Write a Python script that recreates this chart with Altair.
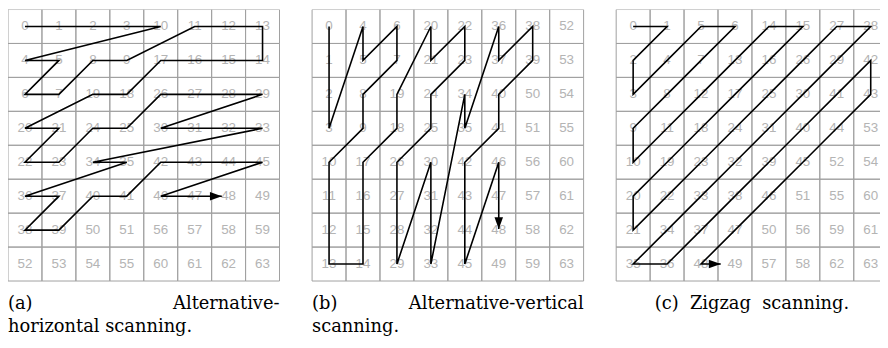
import altair as alt
import pandas as pd

# ---- cell labels (scan index of each position) ----
grid_a = [
    [0, 1, 2, 3, 10, 11, 12, 13],
    [4, 5, 8, 9, 17, 16, 15, 14],
    [6, 7, 19, 18, 26, 27, 28, 29],
    [20, 21, 24, 25, 30, 31, 32, 33],
    [22, 23, 34, 35, 42, 43, 44, 45],
    [36, 37, 40, 41, 46, 47, 48, 49],
    [38, 39, 50, 51, 56, 57, 58, 59],
    [52, 53, 54, 55, 60, 61, 62, 63],
]
grid_b = [
    [0, 4, 6, 20, 22, 36, 38, 52],
    [1, 5, 7, 21, 23, 37, 39, 53],
    [2, 8, 19, 24, 34, 40, 50, 54],
    [3, 9, 18, 25, 35, 41, 51, 55],
    [10, 17, 26, 30, 42, 46, 56, 60],
    [11, 16, 27, 31, 43, 47, 57, 61],
    [12, 15, 28, 32, 44, 48, 58, 62],
    [13, 14, 29, 33, 45, 49, 59, 63],
]
grid_c = [
    [0, 1, 5, 6, 14, 15, 27, 28],
    [2, 4, 7, 13, 16, 26, 29, 42],
    [3, 8, 12, 17, 25, 30, 41, 43],
    [9, 11, 18, 24, 31, 40, 44, 53],
    [10, 19, 23, 32, 39, 45, 52, 54],
    [20, 22, 33, 38, 46, 51, 55, 60],
    [21, 34, 37, 47, 50, 56, 59, 61],
    [35, 36, 48, 49, 57, 58, 62, 63],
]

# ---- drawn scan paths (sequence of visited labels) ----
path_a = [0, 1, 2, 3, 10, 4, 5, 6, 7, 8, 9, 11, 12, 13, 14, 15, 16, 17, 18, 19,
          20, 21, 22, 23, 24, 25, 26, 27, 28, 29, 30, 31, 32, 33, 34, 35, 36,
          37, 38, 39, 40, 41, 42, 43, 44, 45, 46, 47]
path_b = [0, 1, 2, 3, 4, 5, 6, 7, 8, 9, 10, 11, 12, 13, 14, 15, 16, 17, 18, 19,
          20, 21, 22, 23, 24, 25, 26, 27, 28, 29, 30, 31, 32, 33, 34, 35, 36,
          37, 38, 39, 40, 41, 42, 43, 44, 45, 46, 47]
path_c = [0, 1, 2, 3, 4, 5, 6, 7, 8, 9, 10, 11, 12, 13, 14, 15, 16, 17, 18, 19,
          20, 21, 22, 23, 24, 25, 26, 27, 28, 29, 30, 31, 32, 33, 34, 35, 36,
          37, 38, 39, 40, 41, 42, 43, 44, 45, 46, 47, 48]
arrow_target = [48, 48, 49]
arrow_frac = [0.8, 0.97, 0.58]
arrow_angle = [0, 90, 0]

panels = ["a", "b", "c"]
grids = [grid_a, grid_b, grid_c]
paths = [path_a, path_b, path_c]
panel_offset = [0.0, 8.96, 17.92]

captions_left = [("(a)", 0, 8.69), ("horizontal scanning.", 0, 9.36),
                 ("(b)", 1, 8.69), ("scanning.", 1, 9.36)]
captions_right = [("Alternative-", 0, 8.69), ("Alternative-vertical", 1, 8.69)]
captions_center = [("(c)\u00a0\u00a0Zigzag\u00a0\u00a0scanning.", 2, 8.69)]

# ---- build tables ----
cells, path_rows, heads = [], [], []
for p, (name, grid, path, off) in enumerate(zip(panels, grids, paths, panel_offset)):
    pos = {}
    for r, row in enumerate(grid):
        for c, lab in enumerate(row):
            pos[lab] = (off + c + 0.5, r + 0.5)
            cells.append(dict(panel=name, x=off + c, x2=off + c + 1, y=r, y2=r + 1,
                              cx=off + c + 0.5, cy=r + 0.5, label=str(lab)))
    for i, lab in enumerate(path):
        x, y = pos[lab]
        path_rows.append(dict(panel=name, step=i, x=x, y=y))
    sx, sy = pos[path[-1]]
    tx, ty = pos[arrow_target[p]]
    f = arrow_frac[p]
    hx, hy = sx + f * (tx - sx), sy + f * (ty - sy)
    path_rows.append(dict(panel=name, step=len(path), x=hx, y=hy))
    heads.append(dict(panel=name, x=hx, y=hy, ang=arrow_angle[p]))

cells_df = pd.DataFrame(cells)
path_df = pd.DataFrame(path_rows)
head_df = pd.DataFrame(heads)
capL = pd.DataFrame([dict(t=t, x=panel_offset[p], y=y) for t, p, y in captions_left])
capR = pd.DataFrame([dict(t=t, x=panel_offset[p] + 8, y=y) for t, p, y in captions_right])
capC = pd.DataFrame([dict(t=t, x=panel_offset[p] + 4, y=y) for t, p, y in captions_center])

CELL = 34.25
W, H = 880, 334
xs = alt.Scale(domain=[0, W / CELL], nice=False, zero=False)
ys = alt.Scale(domain=[0, H / CELL], nice=False, zero=False, reverse=True)

grid_layer = alt.Chart(cells_df).mark_rect(
    fillOpacity=0, stroke="#a0a0a0", strokeWidth=1, clip=True
).encode(
    x=alt.X("x:Q", scale=xs, axis=None), x2="x2:Q",
    y=alt.Y("y:Q", scale=ys, axis=None), y2="y2:Q",
)

label_layer = alt.Chart(cells_df).mark_text(
    font="Liberation Sans", fontSize=13.5, color="#b4b4b4",
    align="center", baseline="middle", clip=True
).encode(
    x=alt.X("cx:Q", scale=xs, axis=None),
    y=alt.Y("cy:Q", scale=ys, axis=None),
    text="label:N",
)

line_layer = alt.Chart(path_df).mark_line(
    color="black", strokeWidth=1.6, clip=True
).encode(
    x=alt.X("x:Q", scale=xs, axis=None),
    y=alt.Y("y:Q", scale=ys, axis=None),
    detail="panel:N",
    order="step:Q",
)

head_layer = alt.Chart(head_df).mark_point(
    shape="M0,0L-1,-0.36L-1,0.36Z", filled=True, size=576,
    color="black", opacity=1, strokeWidth=0
).encode(
    x=alt.X("x:Q", scale=xs, axis=None),
    y=alt.Y("y:Q", scale=ys, axis=None),
    angle=alt.Angle("ang:Q", scale=None),
)

def cap(df, align):
    return alt.Chart(df).mark_text(
        font="DejaVu Serif", fontSize=18, color="black",
        align=align, baseline="middle"
    ).encode(
        x=alt.X("x:Q", scale=xs, axis=None),
        y=alt.Y("y:Q", scale=ys, axis=None),
        text="t:N",
    )

chart = alt.layer(
    grid_layer, label_layer, line_layer, head_layer,
    cap(capL, "left"), cap(capR, "right"), cap(capC, "center"),
).properties(
    width=W, height=H, padding=0,
    autosize=alt.AutoSizeParams(type="none"),
).configure_view(strokeWidth=0)

chart.save("out.html", embed_options={"renderer": "svg", "actions": False})
